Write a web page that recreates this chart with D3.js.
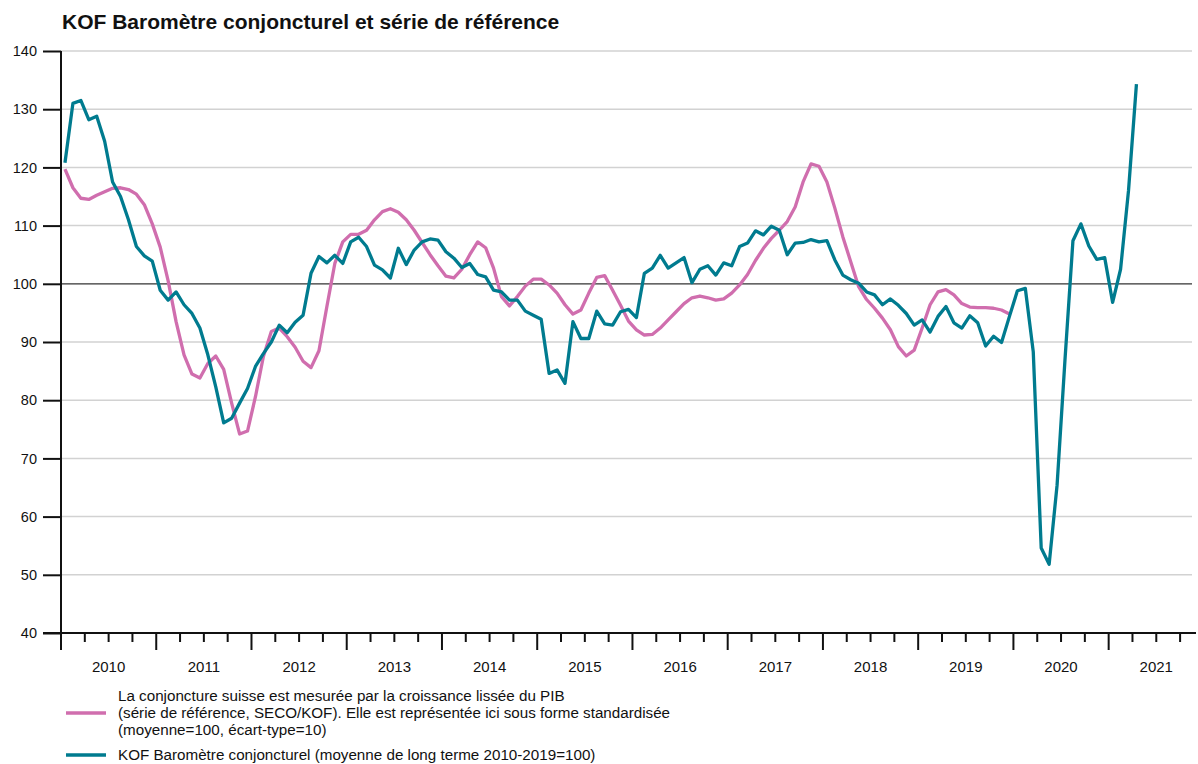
<!DOCTYPE html>
<html lang="fr">
<head>
    <meta charset="UTF-8">
    <title>KOF Baromètre conjoncturel</title>
    <script src="https://d3js.org/d3.v7.min.js"></script>
    <style>
        body { margin: 0; background: #fff; }
        svg { display: block; font-family: "Liberation Sans", Arial, sans-serif; }
        .grid line { stroke: #d2d2d2; stroke-width: 1.5; }
    </style>
</head>
<body>
<div id="chart"></div>
<script>
    // monthly values, Jan 2010 onwards
    var startYear = 2010;
    var years = [2010, 2011, 2012, 2013, 2014, 2015, 2016, 2017, 2018, 2019, 2020, 2021];
    var yTicks = [40, 50, 60, 70, 80, 90, 100, 110, 120, 130, 140];

    // KOF Barometre (Jan 2010 - Apr 2021)
    var barometre = [
        120.8, 131.0, 131.5, 128.2, 128.8, 124.5, 117.5, 115.0, 111.0, 106.4, 104.8, 103.9,
        98.9, 97.2, 98.6, 96.4, 94.9, 92.4, 87.8, 82.3, 76.1, 76.9, 79.5, 82.0,
        85.8, 88.0, 90.0, 92.9, 91.6, 93.4, 94.6, 101.8, 104.7, 103.6, 104.9, 103.5,
        107.2, 108.0, 106.4, 103.2, 102.4, 101.0, 106.1, 103.3, 105.8, 107.2, 107.7, 107.5,
        105.5, 104.4, 102.8, 103.5, 101.6, 101.2, 98.9, 98.6, 97.2, 97.2, 95.3, 94.6,
        93.9, 84.6, 85.2, 82.9, 93.5, 90.6, 90.6, 95.3, 93.1, 92.9, 95.2, 95.6,
        94.2, 101.8, 102.7, 104.9, 102.7, 103.6, 104.5, 100.2, 102.5, 103.1, 101.5, 103.6,
        103.1, 106.4, 107.0, 109.1, 108.4, 109.9, 109.2, 105.0, 107.0, 107.1, 107.6, 107.2,
        107.4, 104.1, 101.5, 100.7, 100.1, 98.6, 98.1, 96.4, 97.4, 96.3, 94.9, 92.9,
        93.8, 91.7, 94.4, 96.1, 93.3, 92.4, 94.5, 93.3, 89.3, 91.0, 89.9, 94.4,
        98.8, 99.2, 88.3, 54.6, 51.8, 65.4, 87.0, 107.4, 110.3, 106.5, 104.2, 104.5,
        96.8, 102.5, 116.0, 134.3
    ];

    // reference series, smoothed GDP growth standardised (Jan 2010 - Dec 2019)
    var reference = [
        119.7, 116.5, 114.7, 114.5, 115.2, 115.8, 116.4, 116.5, 116.2, 115.4, 113.6, 110.3,
        106.3, 100.5, 93.5, 87.8, 84.5, 83.8, 86.3, 87.6, 85.3, 79.5, 74.2, 74.7,
        80.6, 87.5, 91.8, 92.4, 90.9, 89.1, 86.7, 85.6, 88.5, 96.1, 103.5, 107.2,
        108.5, 108.5, 109.2, 111.0, 112.4, 112.9, 112.3, 111.0, 109.2, 107.1, 105.0, 103.1,
        101.3, 101.0, 102.5, 105.0, 107.2, 106.2, 102.7, 97.8, 96.2, 97.8, 99.6, 100.8,
        100.8, 99.8, 98.4, 96.4, 94.8, 95.5, 98.4, 101.1, 101.4, 98.9, 96.3, 93.6,
        92.1, 91.2, 91.3, 92.4, 93.8, 95.2, 96.6, 97.6, 97.9, 97.6, 97.2, 97.4,
        98.4, 99.8, 101.6, 104.0, 106.1, 107.8, 109.2, 110.7, 113.2, 117.5, 120.6, 120.2,
        117.5, 113.0, 108.1, 103.8, 99.5, 97.3, 95.8, 94.1, 92.1, 89.2, 87.6, 88.6,
        92.4, 96.4, 98.6, 99.0, 98.1, 96.6, 96.0, 95.9, 95.9, 95.8, 95.5, 94.8
    ];

    var legendRef = [
        "La conjoncture suisse est mesurée par la croissance lissée du PIB",
        "(série de référence, SECO/KOF). Elle est représentée ici sous forme standardisée",
        "(moyenne=100, écart-type=10)"
    ];
    var legendBaro = "KOF Baromètre conjoncturel (moyenne de long terme 2010-2019=100)";

    var pink = "#d06eae";
    var teal = "#007b8f";

    var width = 1198, height = 764;
    var margin = { top: 51, left: 61, bottom: 131 };
    var plotRight = 1192;

    var svg = d3.select("#chart").append("svg")
        .attr("width", width)
        .attr("height", height);

    // x: month index, points sit in the middle of their month
    var x = d3.scaleLinear()
        .domain([0, 142.5])
        .range([margin.left, plotRight]);
    var y = d3.scaleLinear()
        .domain([40, 140])
        .range([height - margin.bottom, margin.top]);

    svg.append("text")
        .attr("x", 62)
        .attr("y", 29)
        .style("font-size", "21px")
        .style("font-weight", "bold")
        .attr("fill", "#111")
        .text("KOF Baromètre conjoncturel et série de référence");

    // grid
    svg.append("g")
        .attr("class", "grid")
        .selectAll("line")
        .data(yTicks.filter(d => d != 40 && d != 100))
        .enter().append("line")
        .attr("x1", margin.left)
        .attr("x2", plotRight)
        .attr("y1", d => y(d))
        .attr("y2", d => y(d));

    svg.append("line")
        .attr("x1", margin.left)
        .attr("x2", plotRight)
        .attr("y1", y(100))
        .attr("y2", y(100))
        .attr("stroke", "#333")
        .attr("stroke-width", 1.3);

    // y axis
    var yAxis = svg.append("g")
        .attr("transform", "translate(" + margin.left + ",0)")
        .call(d3.axisLeft(y).tickValues(yTicks).tickSize(18).tickPadding(6));
    yAxis.select(".domain").attr("stroke", "#111").attr("stroke-width", 2)
        .attr("d", "M0," + (y(40) + 17) + "V" + y(140));
    yAxis.selectAll(".tick line").attr("stroke", "#111").attr("stroke-width", 2);
    yAxis.selectAll(".tick text").style("font-size", "14.5px").attr("fill", "#111");

    // x axis: quarter ticks, longer ticks at year starts
    var quarters = d3.range(0, 144, 3);
    var xAxis = svg.append("g")
        .attr("transform", "translate(0," + y(40) + ")");
    xAxis.append("line")
        .attr("x1", margin.left - 18)
        .attr("x2", plotRight + 4)
        .attr("stroke", "#111")
        .attr("stroke-width", 2);
    xAxis.selectAll(".qtick")
        .data(quarters)
        .enter().append("line")
        .attr("x1", d => x(d))
        .attr("x2", d => x(d))
        .attr("y1", 0)
        .attr("y2", d => d % 12 == 0 ? 17 : 9)
        .attr("stroke", "#111")
        .attr("stroke-width", 2);
    xAxis.selectAll(".ylabel")
        .data(years)
        .enter().append("text")
        .attr("x", d => x((d - startYear) * 12 + 6))
        .attr("y", 39)
        .attr("text-anchor", "middle")
        .style("font-size", "15px")
        .attr("fill", "#111")
        .text(d => d);

    var line = d3.line()
        .x((d, i) => x(i + 0.5))
        .y(d => y(d));

    svg.append("path")
        .datum(reference)
        .attr("d", line)
        .attr("fill", "none")
        .attr("stroke", pink)
        .attr("stroke-width", 3.3)
        .attr("stroke-linejoin", "round");

    svg.append("path")
        .datum(barometre)
        .attr("d", line)
        .attr("fill", "none")
        .attr("stroke", teal)
        .attr("stroke-width", 3.3)
        .attr("stroke-linejoin", "round");

    // legend
    var legend = svg.append("g");
    legend.append("line")
        .attr("x1", 66).attr("x2", 106)
        .attr("y1", 713).attr("y2", 713)
        .attr("stroke", pink).attr("stroke-width", 3.5);
    legend.selectAll(".lref")
        .data(legendRef)
        .enter().append("text")
        .attr("x", 118)
        .attr("y", (d, i) => 700.5 + i * 17)
        .style("font-size", "15.2px")
        .attr("fill", "#111")
        .text(d => d);
    legend.append("line")
        .attr("x1", 66).attr("x2", 106)
        .attr("y1", 755).attr("y2", 755)
        .attr("stroke", teal).attr("stroke-width", 3.5);
    legend.append("text")
        .attr("x", 118)
        .attr("y", 760)
        .style("font-size", "15.2px")
        .attr("fill", "#111")
        .text(legendBaro);
</script>
</body>
</html>
